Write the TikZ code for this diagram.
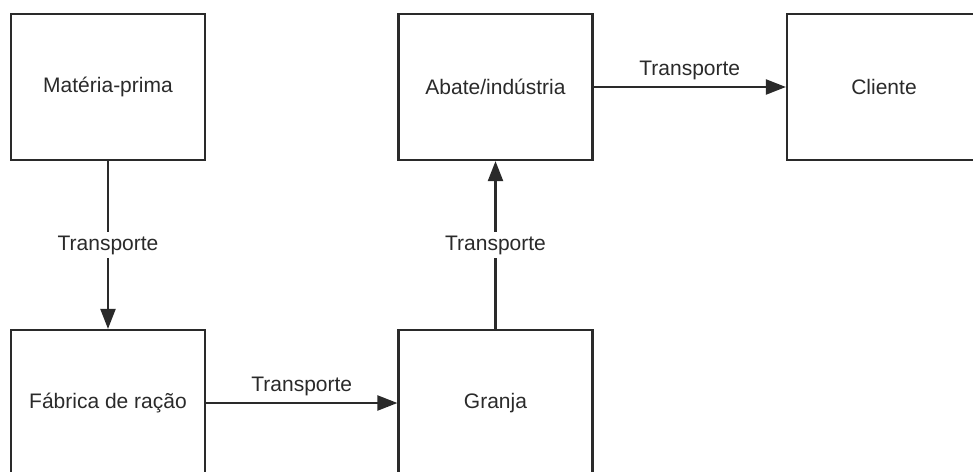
\documentclass[tikz,border=0pt]{standalone}
\usepackage{fontspec}
\setmainfont{Liberation Sans}
\usetikzlibrary{arrows.meta}
\definecolor{ink}{HTML}{2A2A2A}
\tikzset{
  box/.style={draw=ink, line width=2.2pt, rectangle, minimum width=194pt, minimum height=146pt, inner sep=0pt, text=ink, font=\fontsize{21}{24}\selectfont},
  conn/.style={draw=ink, line width=2.2pt, -{Triangle[length=20pt,width=15pt]}},
  lbl/.style={text=ink, font=\fontsize{21}{24}\selectfont, inner sep=2pt},
  lblbg/.style={lbl, fill=white, inner sep=4pt}
}
\begin{document}
\begin{tikzpicture}[x=1pt,y=-1pt]
\useasboundingbox (0,0) rectangle (973,471);
\begin{scope}
\clip (0,0) rectangle (973,471);
\node[box] (mp) at (108,87) {Matéria-prima};
\node[box] (ab) at (495.5,87) {Abate/indústria};
\node[box] (cl) at (884,87) {Cliente};
\node[box] (fr) at (108,403) {Fábrica de ração};
\node[box] (gr) at (495.5,403) {Granja};
\draw[conn] (mp.south) -- node[lblbg] (t1) {Transporte} (fr.north);
\draw[conn] (fr.east) -- node[lbl, above=4pt] (t2) {Transporte} (gr.west);
\draw[conn] (gr.north) -- node[lblbg] (t3) {Transporte} (ab.south);
\draw[conn] (ab.east) -- node[lbl, above=4pt] (t4) {Transporte} (ab.east -| cl.west);
\end{scope}
\end{tikzpicture}
\end{document}
